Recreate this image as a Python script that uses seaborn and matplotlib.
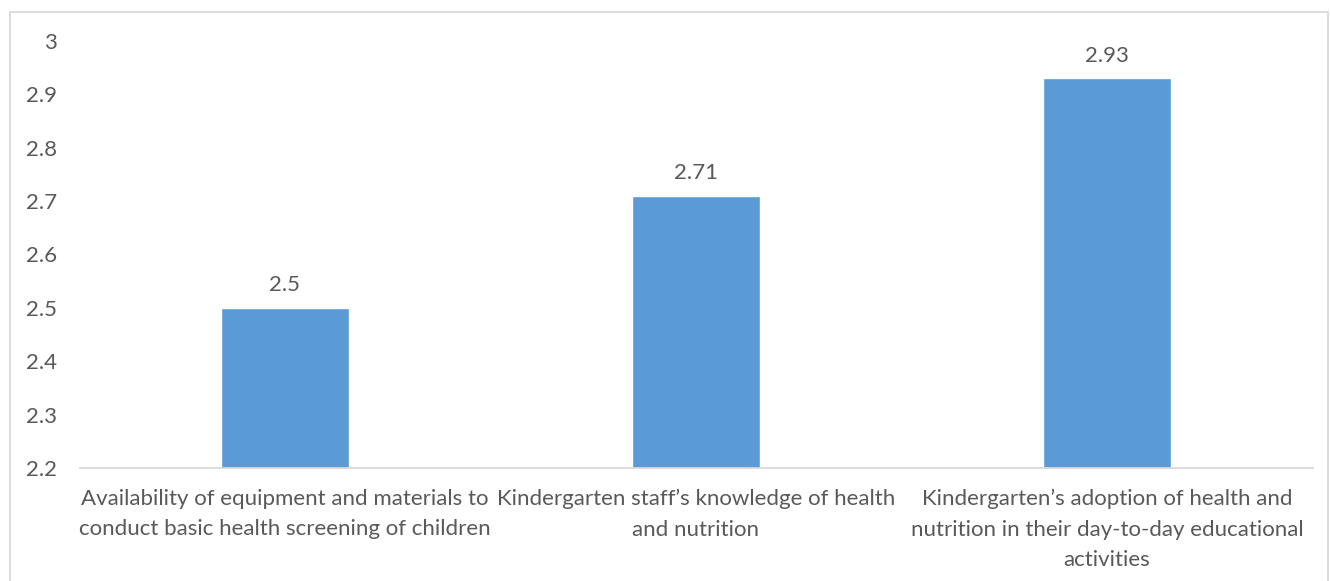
import matplotlib
matplotlib.use("Agg")
import matplotlib.pyplot as plt
import seaborn as sns
from matplotlib.patches import Rectangle

categories = [
    "Availability of equipment and materials to\nconduct basic health screening of children",
    "Kindergarten staff\u2019s knowledge of health\nand nutrition",
    "Kindergarten\u2019s adoption of health and\nnutrition in their day-to-day educational\nactivities",
]
values = [2.5, 2.71, 2.93]
y_ticks = [2.2, 2.3, 2.4, 2.5, 2.6, 2.7, 2.8, 2.9, 3.0]
y_tick_labels = ["2.2", "2.3", "2.4", "2.5", "2.6", "2.7", "2.8", "2.9", "3"]

sns.set_theme(style="white")
plt.rcParams["font.family"] = ["Lato", "DejaVu Sans"]

text_color = "#595959"
bar_color = "#5B9BD5"
line_color = "#D9D9D9"
fs = 16

fig = plt.figure(figsize=(13.3, 5.81), dpi=100)
ax = fig.add_axes([79.5 / 1330, 1 - 468 / 581, (1312.5 - 79.5) / 1330, (468 - 41) / 581])

sns.barplot(x=categories, y=values, color=bar_color, saturation=1, width=0.311, ax=ax)

ax.set_ylim(2.2, 3.0)
ax.set_xlim(-0.5, 2.5)
ax.set_yticks(y_ticks)
ax.set_yticklabels(y_tick_labels)
ax.set_xticks(range(len(categories)))
ax.set_xticklabels(categories, linespacing=1.65)
ax.tick_params(axis="y", length=0, pad=16, labelsize=fs, labelcolor=text_color)
ax.tick_params(axis="x", length=0, pad=15, labelsize=fs, labelcolor=text_color)

for side in ["left", "right", "top"]:
    ax.spines[side].set_visible(False)
ax.spines["bottom"].set_color(line_color)
ax.spines["bottom"].set_linewidth(1.3)
ax.set_xlabel("")
ax.set_ylabel("")

ax.bar_label(ax.containers[0], labels=[f"{v:g}" for v in values], padding=9,
             fontsize=fs, color=text_color)

# Chart-area frame
fig.patches.append(Rectangle((10 / 1330, -0.01), 1318 / 1330, 1 - 12 / 581 + 0.01,
                             transform=fig.transFigure, fill=False,
                             edgecolor=line_color, linewidth=1.3, zorder=0))

fig.savefig("out.png", dpi=100, facecolor="white")
